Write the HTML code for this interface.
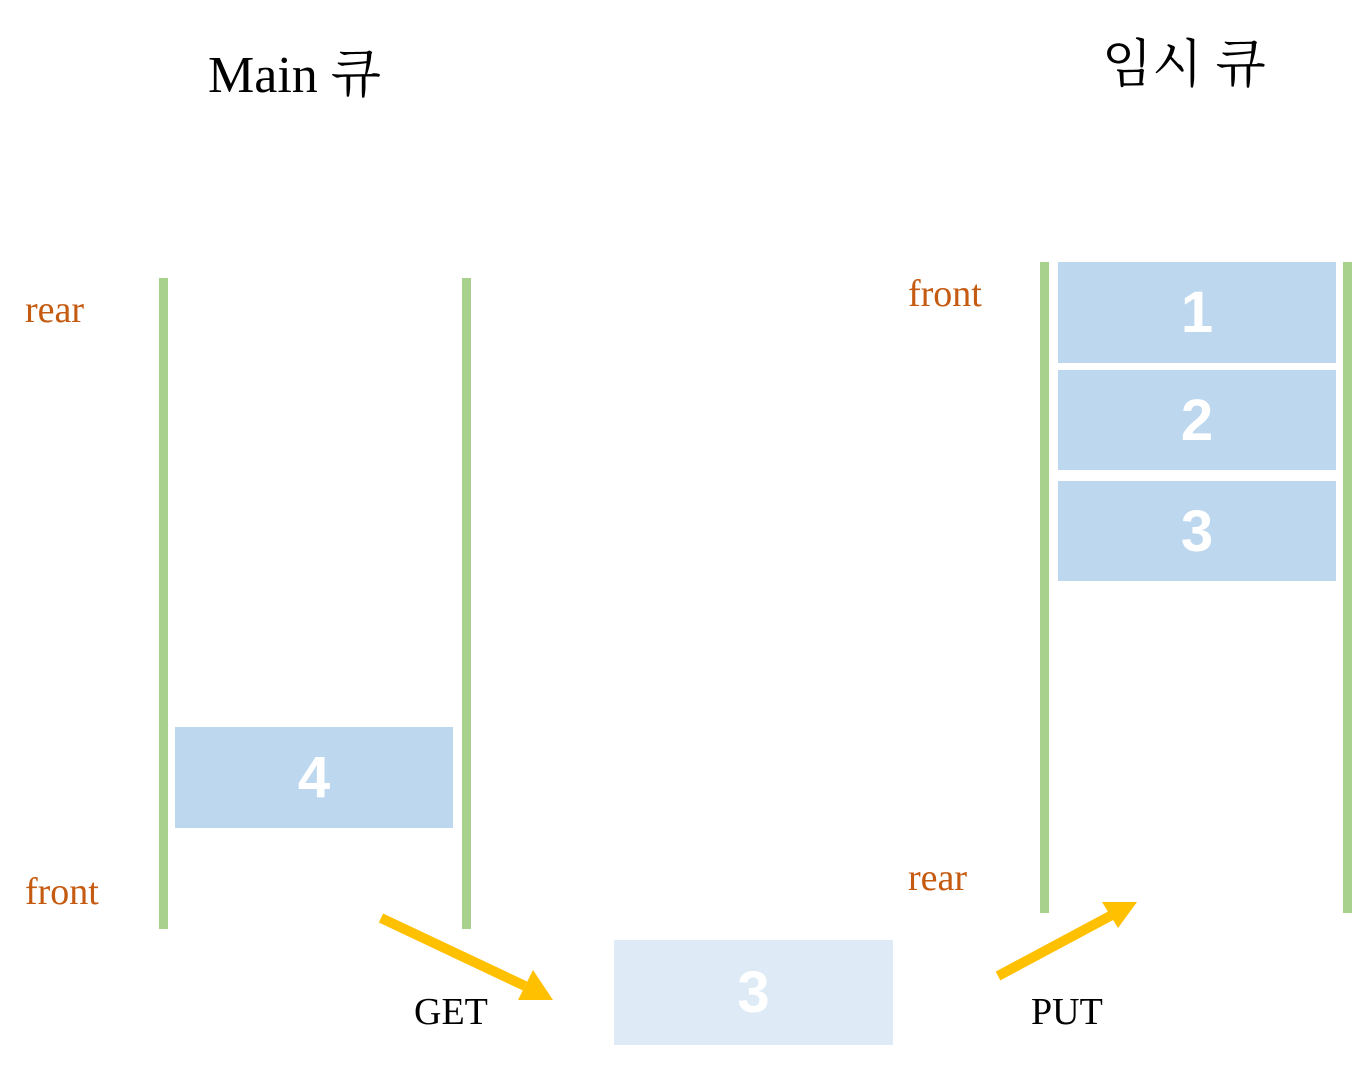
<!DOCTYPE html>
<html><head><meta charset="utf-8"><style>
body{margin:0;width:1352px;height:1066px;background:#fff;position:relative;overflow:hidden}
.a{position:absolute}
.t{font-family:"Liberation Serif","Noto Serif CJK SC","Noto Sans CJK KR",serif;color:#000;white-space:nowrap}
.o{font-family:"Liberation Serif",serif;color:#C55A11;font-size:38px;white-space:nowrap}
.g{background:#A9D18E;width:9px}
.b{background:#BDD7EE;color:#fff;font:bold 58px "Liberation Sans",sans-serif;display:flex;align-items:center;justify-content:center}
</style></head><body>
<div class="a t" style="left:208px;top:32px;font-size:52px">Main 큐</div>
<div class="a t" style="left:1102px;top:22px;font-size:52px">임시 큐</div>

<div class="a g" style="left:159px;top:278px;height:651px"></div>
<div class="a g" style="left:462px;top:278px;height:651px"></div>
<div class="a g" style="left:1040px;top:262px;height:651px"></div>
<div class="a g" style="left:1343px;top:262px;height:651px"></div>

<div class="a o" style="left:25px;top:288px">rear</div>
<div class="a o" style="left:25px;top:870px">front</div>
<div class="a o" style="left:908px;top:272px">front</div>
<div class="a o" style="left:908px;top:856px">rear</div>

<div class="a b" style="left:175px;top:727px;width:278px;height:101px">4</div>
<div class="a b" style="left:1058px;top:262px;width:278px;height:101px">1</div>
<div class="a b" style="left:1058px;top:370px;width:278px;height:100px">2</div>
<div class="a b" style="left:1058px;top:481px;width:278px;height:100px">3</div>
<div class="a b" style="left:614px;top:940px;width:279px;height:105px;background:#DEEBF7">3</div>

<svg class="a" style="left:0;top:0" width="1352" height="1066">
<line x1="381" y1="918" x2="525" y2="986" stroke="#FFC000" stroke-width="10"/>
<polygon points="553,1000 518,1000 533,970" fill="#FFC000"/>
<line x1="998" y1="976" x2="1112" y2="915" stroke="#FFC000" stroke-width="10"/>
<polygon points="1137,902 1118,928 1102,902" fill="#FFC000"/>
</svg>

<div class="a t" style="left:414px;top:990px;font-size:38px">GET</div>
<div class="a t" style="left:1031px;top:990px;font-size:38px">PUT</div>
</body></html>
